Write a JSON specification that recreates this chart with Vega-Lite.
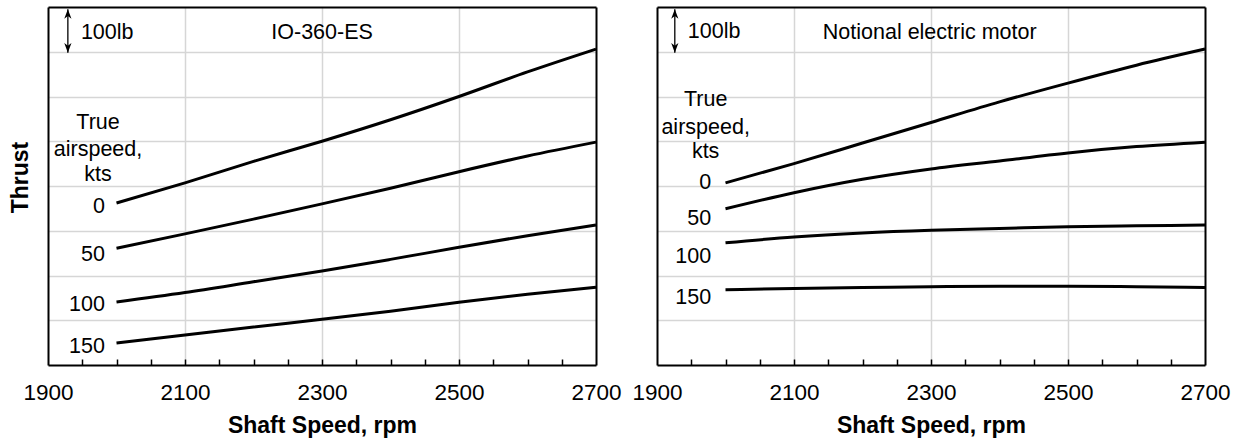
{
  "$schema": "https://vega.github.io/schema/vega-lite/v6.json",
  "padding": {"left": 9, "top": 7, "right": 5, "bottom": 5},
  "background": "white",
  "config": {
    "font": "Liberation Sans",
    "view": {"stroke": null},
    "axis": {"gridColor": "#d6d6d6", "gridWidth": 1.5, "labelFont": "Liberation Sans", "labelFontSize": 22.5, "labelColor": "black", "titleFont": "Liberation Sans", "titleFontSize": 23, "titleFontWeight": "bold", "titleColor": "black"},
    "text": {"font": "Liberation Sans", "fontSize": 21.5, "color": "black"}
  },
  "datasets": {
    "curves": [
      {"panel": "L", "kts": 0, "rpm": 2000, "thrust": 3.62}, {"panel": "L", "kts": 0, "rpm": 2100, "thrust": 4.07}, {"panel": "L", "kts": 0, "rpm": 2200, "thrust": 4.55}, {"panel": "L", "kts": 0, "rpm": 2300, "thrust": 5.0}, {"panel": "L", "kts": 0, "rpm": 2400, "thrust": 5.48}, {"panel": "L", "kts": 0, "rpm": 2500, "thrust": 6.0}, {"panel": "L", "kts": 0, "rpm": 2600, "thrust": 6.55}, {"panel": "L", "kts": 0, "rpm": 2700, "thrust": 7.06},
      {"panel": "L", "kts": 50, "rpm": 2000, "thrust": 2.61}, {"panel": "L", "kts": 50, "rpm": 2100, "thrust": 2.93}, {"panel": "L", "kts": 50, "rpm": 2200, "thrust": 3.26}, {"panel": "L", "kts": 50, "rpm": 2300, "thrust": 3.6}, {"panel": "L", "kts": 50, "rpm": 2400, "thrust": 3.95}, {"panel": "L", "kts": 50, "rpm": 2500, "thrust": 4.32}, {"panel": "L", "kts": 50, "rpm": 2600, "thrust": 4.67}, {"panel": "L", "kts": 50, "rpm": 2700, "thrust": 4.98},
      {"panel": "L", "kts": 100, "rpm": 2000, "thrust": 1.41}, {"panel": "L", "kts": 100, "rpm": 2100, "thrust": 1.62}, {"panel": "L", "kts": 100, "rpm": 2200, "thrust": 1.86}, {"panel": "L", "kts": 100, "rpm": 2300, "thrust": 2.1}, {"panel": "L", "kts": 100, "rpm": 2400, "thrust": 2.36}, {"panel": "L", "kts": 100, "rpm": 2500, "thrust": 2.63}, {"panel": "L", "kts": 100, "rpm": 2600, "thrust": 2.89}, {"panel": "L", "kts": 100, "rpm": 2700, "thrust": 3.13},
      {"panel": "L", "kts": 150, "rpm": 2000, "thrust": 0.49}, {"panel": "L", "kts": 150, "rpm": 2100, "thrust": 0.67}, {"panel": "L", "kts": 150, "rpm": 2200, "thrust": 0.85}, {"panel": "L", "kts": 150, "rpm": 2300, "thrust": 1.02}, {"panel": "L", "kts": 150, "rpm": 2400, "thrust": 1.2}, {"panel": "L", "kts": 150, "rpm": 2500, "thrust": 1.4}, {"panel": "L", "kts": 150, "rpm": 2600, "thrust": 1.58}, {"panel": "L", "kts": 150, "rpm": 2700, "thrust": 1.74},
      {"panel": "R", "kts": 0, "rpm": 2000, "thrust": 4.07}, {"panel": "R", "kts": 0, "rpm": 2100, "thrust": 4.5}, {"panel": "R", "kts": 0, "rpm": 2200, "thrust": 4.96}, {"panel": "R", "kts": 0, "rpm": 2300, "thrust": 5.42}, {"panel": "R", "kts": 0, "rpm": 2400, "thrust": 5.88}, {"panel": "R", "kts": 0, "rpm": 2500, "thrust": 6.3}, {"panel": "R", "kts": 0, "rpm": 2600, "thrust": 6.7}, {"panel": "R", "kts": 0, "rpm": 2700, "thrust": 7.06},
      {"panel": "R", "kts": 50, "rpm": 2000, "thrust": 3.49}, {"panel": "R", "kts": 50, "rpm": 2100, "thrust": 3.85}, {"panel": "R", "kts": 50, "rpm": 2200, "thrust": 4.15}, {"panel": "R", "kts": 50, "rpm": 2300, "thrust": 4.38}, {"panel": "R", "kts": 50, "rpm": 2400, "thrust": 4.56}, {"panel": "R", "kts": 50, "rpm": 2500, "thrust": 4.74}, {"panel": "R", "kts": 50, "rpm": 2600, "thrust": 4.88}, {"panel": "R", "kts": 50, "rpm": 2700, "thrust": 4.98},
      {"panel": "R", "kts": 100, "rpm": 2000, "thrust": 2.73}, {"panel": "R", "kts": 100, "rpm": 2100, "thrust": 2.86}, {"panel": "R", "kts": 100, "rpm": 2200, "thrust": 2.95}, {"panel": "R", "kts": 100, "rpm": 2300, "thrust": 3.01}, {"panel": "R", "kts": 100, "rpm": 2400, "thrust": 3.05}, {"panel": "R", "kts": 100, "rpm": 2500, "thrust": 3.09}, {"panel": "R", "kts": 100, "rpm": 2600, "thrust": 3.11}, {"panel": "R", "kts": 100, "rpm": 2700, "thrust": 3.13},
      {"panel": "R", "kts": 150, "rpm": 2000, "thrust": 1.68}, {"panel": "R", "kts": 150, "rpm": 2100, "thrust": 1.71}, {"panel": "R", "kts": 150, "rpm": 2200, "thrust": 1.73}, {"panel": "R", "kts": 150, "rpm": 2300, "thrust": 1.75}, {"panel": "R", "kts": 150, "rpm": 2400, "thrust": 1.76}, {"panel": "R", "kts": 150, "rpm": 2500, "thrust": 1.76}, {"panel": "R", "kts": 150, "rpm": 2600, "thrust": 1.75}, {"panel": "R", "kts": 150, "rpm": 2700, "thrust": 1.73}
    ],
    "labels": [
      {"panel": "L", "kind": "heading", "text": "True", "rpm": 1973, "thrust": 5.41},
      {"panel": "L", "kind": "heading", "text": "airspeed,", "rpm": 1973, "thrust": 4.8},
      {"panel": "L", "kind": "heading", "text": "kts", "rpm": 1973, "thrust": 4.25},
      {"panel": "L", "kind": "speed", "text": "0", "rpm": 1983, "thrust": 3.53},
      {"panel": "L", "kind": "speed", "text": "50", "rpm": 1983, "thrust": 2.46},
      {"panel": "L", "kind": "speed", "text": "100", "rpm": 1983, "thrust": 1.34},
      {"panel": "L", "kind": "speed", "text": "150", "rpm": 1983, "thrust": 0.4},
      {"panel": "L", "kind": "note", "text": "100lb", "rpm": 1948, "thrust": 7.42},
      {"panel": "L", "kind": "note", "text": "IO-360-ES", "rpm": 2226, "thrust": 7.42},
      {"panel": "R", "kind": "heading", "text": "True", "rpm": 1971, "thrust": 5.92},
      {"panel": "R", "kind": "heading", "text": "airspeed,", "rpm": 1971, "thrust": 5.3},
      {"panel": "R", "kind": "heading", "text": "kts", "rpm": 1971, "thrust": 4.76},
      {"panel": "R", "kind": "speed", "text": "0", "rpm": 1979, "thrust": 4.07},
      {"panel": "R", "kind": "speed", "text": "50", "rpm": 1979, "thrust": 3.26},
      {"panel": "R", "kind": "speed", "text": "100", "rpm": 1979, "thrust": 2.41},
      {"panel": "R", "kind": "speed", "text": "150", "rpm": 1979, "thrust": 1.5},
      {"panel": "R", "kind": "note", "text": "100lb", "rpm": 1945, "thrust": 7.44},
      {"panel": "R", "kind": "note", "text": "Notional electric motor", "rpm": 2142, "thrust": 7.42}
    ],
    "arrow": [
      {"panel": "L", "rpm": 1929, "thrust": 6.98, "thrust2": 7.95},
      {"panel": "R", "rpm": 1926, "thrust": 6.98, "thrust2": 7.95}
    ],
    "heads": [
      {"panel": "L", "rpm": 1929, "thrust": 7.95, "end": "top"},
      {"panel": "L", "rpm": 1929, "thrust": 6.98, "end": "bottom"},
      {"panel": "R", "rpm": 1926, "thrust": 7.95, "end": "top"},
      {"panel": "R", "rpm": 1926, "thrust": 6.98, "end": "bottom"}
    ]
  },
  "spacing": 61,
  "bounds": "flush",
  "hconcat": [
    {
      "width": 548, "height": 358,
      "resolve": {"axis": {"x": "independent", "y": "independent"}},
      "layer": [
        {
          "data": {"name": "curves"},
          "transform": [{"filter": "datum.panel == 'L'"}],
          "mark": {"type": "line", "color": "black", "strokeWidth": 3, "interpolate": "monotone"},
          "encoding": {
            "x": {"field": "rpm", "type": "quantitative", "scale": {"domain": [1900, 2700], "nice": false},
              "axis": {"title": "Shaft Speed, rpm", "orient": "bottom", "values": [1900, 2100, 2300, 2500, 2700], "format": "d", "labelOverlap": false, "labelFlush": false, "gridOpacity": {"condition": {"test": "datum.value > 1900 && datum.value < 2700", "value": 1}, "value": 0}, "ticks": false, "domain": true, "domainColor": "black", "domainWidth": 2, "labelPadding": 16, "titlePadding": 11}},
            "y": {"field": "thrust", "type": "quantitative", "scale": {"domain": [0, 8], "nice": false},
              "axis": {"title": "Thrust", "orient": "left", "values": [1, 2, 3, 4, 5, 6, 7], "labels": false, "ticks": false, "domain": true, "domainColor": "black", "domainWidth": 2, "titlePadding": 16, "titleY": 170}},
            "detail": {"field": "kts"}
          }
        },
        {
          "data": {"name": "labels"},
          "transform": [{"filter": "datum.panel == 'L' && datum.kind == 'heading'"}],
          "mark": {"type": "text", "align": "center", "baseline": "middle"},
          "encoding": {"x": {"field": "rpm", "type": "quantitative", "axis": null}, "y": {"field": "thrust", "type": "quantitative", "axis": null}, "text": {"field": "text"}}
        },
        {
          "data": {"name": "labels"},
          "transform": [{"filter": "datum.panel == 'L' && datum.kind == 'speed'"}],
          "mark": {"type": "text", "align": "right", "baseline": "middle"},
          "encoding": {"x": {"field": "rpm", "type": "quantitative", "axis": null}, "y": {"field": "thrust", "type": "quantitative", "axis": null}, "text": {"field": "text"}}
        },
        {
          "data": {"name": "labels"},
          "transform": [{"filter": "datum.panel == 'L' && datum.kind == 'note'"}],
          "mark": {"type": "text", "align": "left", "baseline": "middle"},
          "encoding": {"x": {"field": "rpm", "type": "quantitative", "axis": null}, "y": {"field": "thrust", "type": "quantitative", "axis": null}, "text": {"field": "text"}}
        },
        {
          "data": {"name": "arrow"},
          "transform": [{"filter": "datum.panel == 'L'"}],
          "mark": {"type": "rule", "color": "black", "strokeWidth": 1.3},
          "encoding": {
            "x": {"field": "rpm", "type": "quantitative", "axis": {"orient": "top", "title": null, "labels": false, "ticks": false, "grid": false, "domain": true, "domainColor": "black", "domainWidth": 2}},
            "y": {"field": "thrust", "type": "quantitative", "axis": {"orient": "right", "title": null, "labels": false, "ticks": false, "grid": false, "domain": true, "domainColor": "black", "domainWidth": 2}},
            "y2": {"field": "thrust2"}}
        },
        {
          "data": {"name": "heads"},
          "transform": [{"filter": "datum.panel == 'L'"}],
          "mark": {"type": "point", "filled": true, "color": "black", "strokeWidth": 0, "size": 64, "opacity": 1},
          "encoding": {
            "x": {"field": "rpm", "type": "quantitative", "axis": {"orient": "bottom", "title": null, "labels": false, "grid": false, "domain": false, "ticks": true, "values": [1950, 2000, 2050, 2100, 2150, 2200, 2250, 2300, 2350, 2400, 2450, 2500, 2550, 2600, 2650], "tickSize": 6, "tickWidth": 1.5, "tickColor": "black", "tickOpacity": 1, "offset": -6, "zindex": 2}},
            "y": {"field": "thrust", "type": "quantitative", "axis": null},
            "shape": {"field": "end", "type": "nominal", "scale": {"domain": ["top", "bottom"], "range": ["M0,0L0.9,2.4L0,1.7L-0.9,2.4Z", "M0,0L0.9,-2.4L0,-1.7L-0.9,-2.4Z"]}, "legend": null}}
        }
      ]
    },
    {
      "width": 548, "height": 358,
      "resolve": {"axis": {"x": "independent", "y": "independent"}},
      "layer": [
        {
          "data": {"name": "curves"},
          "transform": [{"filter": "datum.panel == 'R'"}],
          "mark": {"type": "line", "color": "black", "strokeWidth": 3, "interpolate": "monotone"},
          "encoding": {
            "x": {"field": "rpm", "type": "quantitative", "scale": {"domain": [1900, 2700], "nice": false},
              "axis": {"title": "Shaft Speed, rpm", "orient": "bottom", "values": [1900, 2100, 2300, 2500, 2700], "format": "d", "labelOverlap": false, "labelFlush": false, "gridOpacity": {"condition": {"test": "datum.value > 1900 && datum.value < 2700", "value": 1}, "value": 0}, "ticks": false, "domain": true, "domainColor": "black", "domainWidth": 2, "labelPadding": 16, "titlePadding": 11}},
            "y": {"field": "thrust", "type": "quantitative", "scale": {"domain": [0, 8], "nice": false},
              "axis": {"title": null, "orient": "left", "values": [1, 2, 3, 4, 5, 6, 7], "labels": false, "ticks": false, "domain": true, "domainColor": "black", "domainWidth": 2}},
            "detail": {"field": "kts"}
          }
        },
        {
          "data": {"name": "labels"},
          "transform": [{"filter": "datum.panel == 'R' && datum.kind == 'heading'"}],
          "mark": {"type": "text", "align": "center", "baseline": "middle"},
          "encoding": {"x": {"field": "rpm", "type": "quantitative", "axis": null}, "y": {"field": "thrust", "type": "quantitative", "axis": null}, "text": {"field": "text"}}
        },
        {
          "data": {"name": "labels"},
          "transform": [{"filter": "datum.panel == 'R' && datum.kind == 'speed'"}],
          "mark": {"type": "text", "align": "right", "baseline": "middle"},
          "encoding": {"x": {"field": "rpm", "type": "quantitative", "axis": null}, "y": {"field": "thrust", "type": "quantitative", "axis": null}, "text": {"field": "text"}}
        },
        {
          "data": {"name": "labels"},
          "transform": [{"filter": "datum.panel == 'R' && datum.kind == 'note'"}],
          "mark": {"type": "text", "align": "left", "baseline": "middle"},
          "encoding": {"x": {"field": "rpm", "type": "quantitative", "axis": null}, "y": {"field": "thrust", "type": "quantitative", "axis": null}, "text": {"field": "text"}}
        },
        {
          "data": {"name": "arrow"},
          "transform": [{"filter": "datum.panel == 'R'"}],
          "mark": {"type": "rule", "color": "black", "strokeWidth": 1.3},
          "encoding": {
            "x": {"field": "rpm", "type": "quantitative", "axis": {"orient": "top", "title": null, "labels": false, "ticks": false, "grid": false, "domain": true, "domainColor": "black", "domainWidth": 2}},
            "y": {"field": "thrust", "type": "quantitative", "axis": {"orient": "right", "title": null, "labels": false, "ticks": false, "grid": false, "domain": true, "domainColor": "black", "domainWidth": 2}},
            "y2": {"field": "thrust2"}}
        },
        {
          "data": {"name": "heads"},
          "transform": [{"filter": "datum.panel == 'R'"}],
          "mark": {"type": "point", "filled": true, "color": "black", "strokeWidth": 0, "size": 64, "opacity": 1},
          "encoding": {
            "x": {"field": "rpm", "type": "quantitative", "axis": {"orient": "bottom", "title": null, "labels": false, "grid": false, "domain": false, "ticks": true, "values": [1950, 2000, 2050, 2100, 2150, 2200, 2250, 2300, 2350, 2400, 2450, 2500, 2550, 2600, 2650], "tickSize": 6, "tickWidth": 1.5, "tickColor": "black", "tickOpacity": 1, "offset": -6, "zindex": 2}},
            "y": {"field": "thrust", "type": "quantitative", "axis": null},
            "shape": {"field": "end", "type": "nominal", "scale": {"domain": ["top", "bottom"], "range": ["M0,0L0.9,2.4L0,1.7L-0.9,2.4Z", "M0,0L0.9,-2.4L0,-1.7L-0.9,-2.4Z"]}, "legend": null}}
        }
      ]
    }
  ]
}
